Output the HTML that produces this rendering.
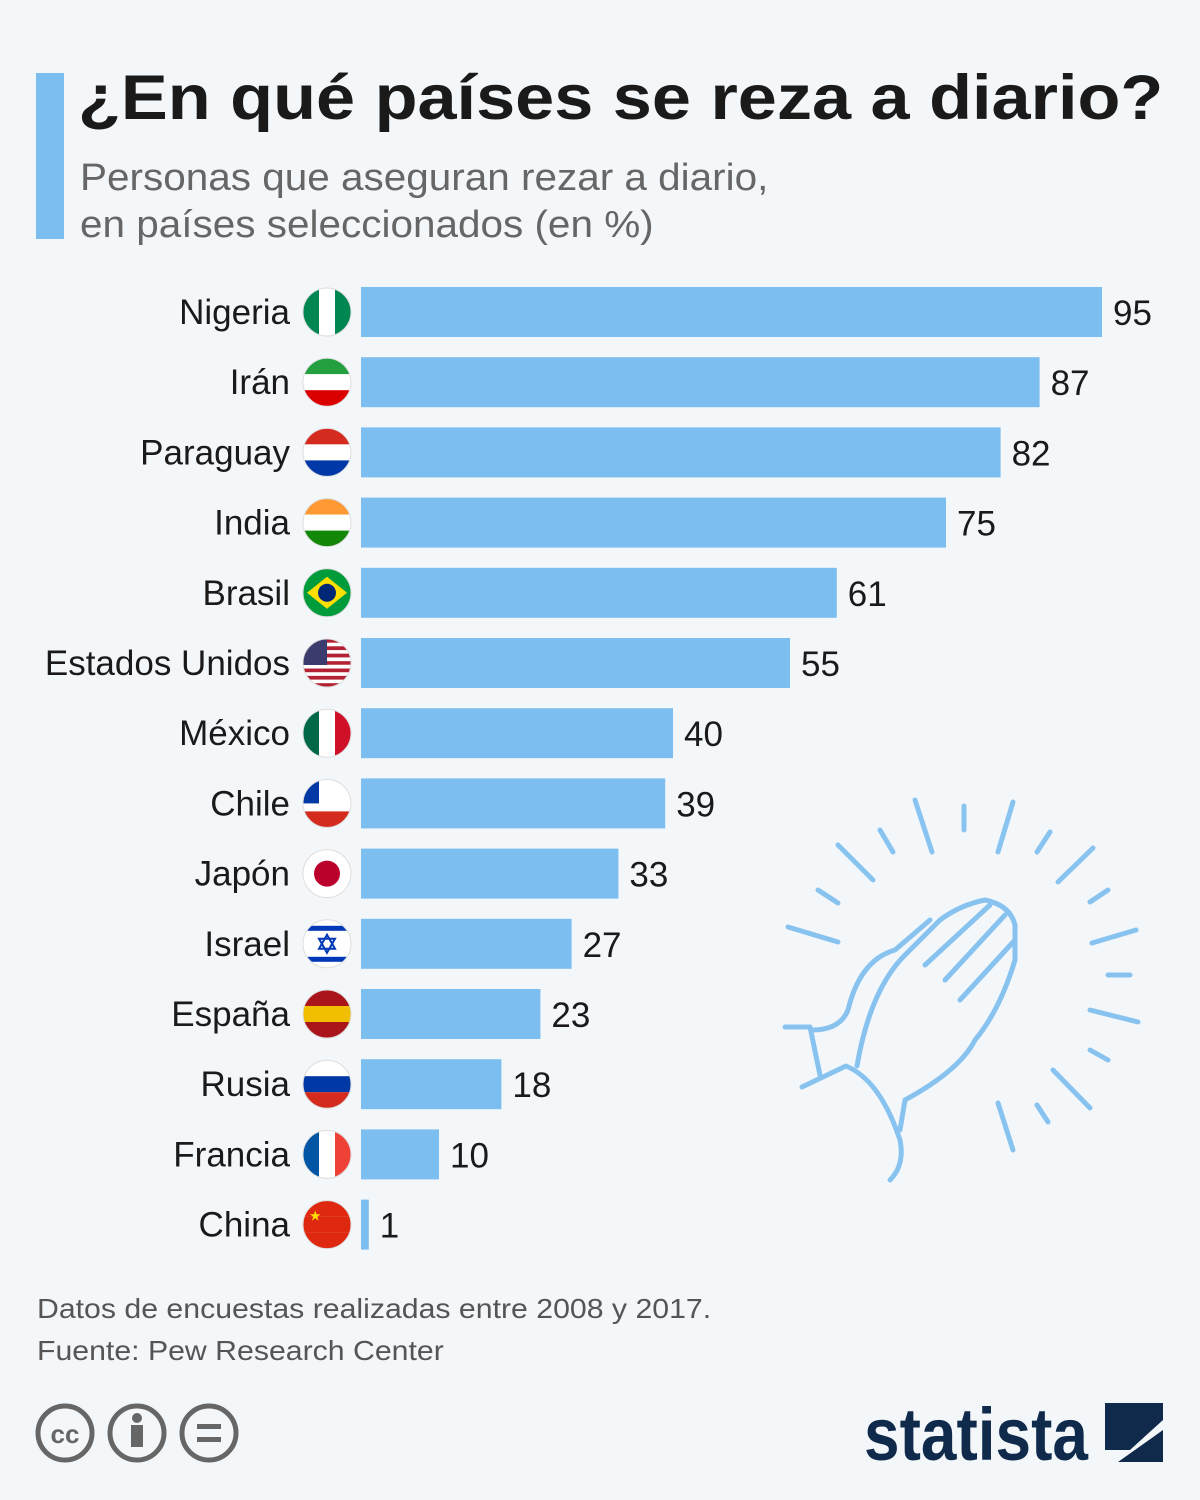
<!DOCTYPE html>
<html><head><meta charset="utf-8">
<style>
body{margin:0;background:#f4f7fa;}
#wrap{position:relative;width:1200px;height:1500px;background:#f4f7fa;font-family:"Liberation Sans",sans-serif;overflow:hidden}
.t{position:absolute;white-space:nowrap;transform-origin:0 0}
</style></head><body>
<div id="wrap">
<div class="t" style="left:36px;top:73px;width:28px;height:166px;background:#7dbef0"></div>
<div class="t" style="left:78px;top:62px;font-size:63px;font-weight:bold;color:#1a1a1a;transform:scaleX(1.115)">¿En qué países se reza a diario?</div>
<div class="t" style="left:80px;top:155px;font-size:38px;line-height:47px;color:#666;transform:scaleX(1.065)">Personas que aseguran rezar a diario,<br>en países seleccionados (en %)</div>
<svg id="chart" width="1200" height="1500" style="position:absolute;left:0;top:0"></svg>
<div class="t" style="left:37px;top:1288px;font-size:28px;line-height:42px;color:#555;transform:scaleX(1.08)">Datos de encuestas realizadas entre 2008 y 2017.<br>Fuente: Pew Research Center</div>
<svg width="1200" height="1500" style="position:absolute;left:0;top:0;pointer-events:none">
 <g fill="none" stroke="#666" stroke-width="5">
  <circle cx="65" cy="1433" r="27"/><circle cx="137" cy="1433" r="27"/><circle cx="209" cy="1433" r="27"/>
  <text x="65" y="1443" font-size="26" font-weight="bold" fill="#666" stroke="none" text-anchor="middle" font-family="Liberation Sans">cc</text>
  <circle cx="137" cy="1418" r="5" fill="#666" stroke="none"/><rect x="131" y="1425" width="12" height="22" fill="#666" stroke="none"/>
  <rect x="197" y="1424" width="24" height="5" fill="#666" stroke="none"/><rect x="197" y="1437" width="24" height="5" fill="#666" stroke="none"/>
 </g>
 <text x="864" y="1460" font-size="74" font-weight="bold" fill="#0f2a4a" font-family="Liberation Sans" textLength="224" lengthAdjust="spacingAndGlyphs">statista</text>
 <g fill="#0f2a4a">
  <path d="M1105 1403 H1163 V1420 L1130 1450 H1105 Z M1163 1430 V1462 H1118 Z"/>
 </g>
 <g fill="none" stroke="#7dbef0" stroke-width="5" stroke-linecap="round" stroke-linejoin="round" opacity="0.9">
  <path d="M915 800 L932 852 M964 806 L964 830 M1013 802 L998 852 M880 830 L893 852 M1050 832 L1037 852 M838 845 L873 880 M1093 848 L1058 882 M818 890 L838 903 M1108 890 L1090 902 M788 927 L838 942 M1136 930 L1092 943 M1108 975 L1130 975 M1090 1010 L1138 1022 M1090 1050 L1108 1060 M1053 1070 L1090 1108 M998 1103 L1013 1150 M1037 1105 L1048 1122"/>
  <path d="M802 1087 L846 1066 Q880 1080 900 1140 Q905 1165 890 1180"/>
  <path d="M857 1066 Q870 990 905 955 L940 920 Q960 905 985 900 Q1010 905 1015 925 L1015 960 Q1000 1010 975 1040 Q960 1070 905 1100 L900 1130"/>
  <path d="M785 1027 L810 1027 L820 1075 M812 1030 Q840 1030 848 1010 Q860 960 895 950 L930 920 M925 965 L990 905 M945 980 L1005 915 M960 1000 L1015 940"/>
 </g>
</svg>
</div>
<script>
const countries=["Nigeria","Irán","Paraguay","India","Brasil","Estados Unidos","México","Chile","Japón","Israel","España","Rusia","Francia","China"];
const values=[95,87,82,75,61,55,40,39,33,27,23,18,10,1];
const flags=[["#008751","#fff","#008751","v"],["#239f40","#fff","#da0000","h"],["#d52b1e","#fff","#0038a8","h"],["#ff9933","#fff","#138808","h"],["#009c3b","#ffdf00","#009c3b","br"],["#b22234","#fff","#b22234","us"],["#006847","#fff","#ce1126","v"],["#fff","#fff","#d52b1e","cl"],["#fff","#fff","#fff","jp"],["#fff","#fff","#fff","il"],["#aa151b","#f1bf00","#aa151b","h"],["#fff","#0039a6","#d52b1e","h"],["#0055a4","#fff","#ef4135","v"],["#de2910","#de2910","#de2910","cn"]];
const svg=document.getElementById('chart');const NS="http://www.w3.org/2000/svg";
const x0=361,scale=7.8,top0=287,pitch=70.2,bh=50;
const xs=v=>v*scale;
function mk(t,a,p){const e=document.createElementNS(NS,t);for(const k in a)e.setAttribute(k,a[k]);(p||svg).appendChild(e);return e;}
const defs=mk('defs',{});
countries.forEach((c,i)=>{
 const y=top0+i*pitch,cy=y+bh/2;
 const r=mk('rect',{x:x0,y:y,width:xs(values[i]),height:bh,fill:'#7dbef0'});
 
 
 const v=mk('text',{x:x0+xs(values[i])+11,y:cy+13,'font-size':35,fill:'#1a1a1a','font-family':'Liberation Sans'});v.textContent=values[i];
 
 
 const l=mk('text',{x:290,y:cy+12,'font-size':35,fill:'#1a1a1a','text-anchor':'end','font-family':'Liberation Sans'});l.textContent=c;
 
 
 const cp=mk('clipPath',{id:'cp'+i},defs);mk('circle',{cx:327,cy:cy,r:24},cp);
 const g=mk('g',{'clip-path':'url(#cp'+i+')'});
 
 
 const f=flags[i],X=303,Y=cy-24;
 if(f[3]=='v'){for(let k=0;k<3;k++)mk('rect',{x:X+k*16,y:Y,width:16,height:48,fill:f[k]},g);}
 else{for(let k=0;k<3;k++)mk('rect',{x:X,y:Y+k*16,width:48,height:16,fill:f[k]},g);}
 if(f[3]=='br'){mk('rect',{x:X,y:Y,width:48,height:48,fill:'#009c3b'},g);mk('path',{d:`M${X+4} ${cy} L327 ${Y+8} L${X+44} ${cy} L327 ${Y+40}Z`,fill:'#ffdf00'},g);mk('circle',{cx:327,cy:cy,r:9,fill:'#002776'},g);}
 if(f[3]=='us'){for(let k=0;k<13;k++)mk('rect',{x:X,y:Y+k*48/13,width:48,height:48/13,fill:k%2?'#fff':'#b22234'},g);mk('rect',{x:X,y:Y,width:24,height:26,fill:'#3c3b6e'},g);}
 if(f[3]=='cl'){mk('rect',{x:X,y:Y,width:16,height:24,fill:'#0039a6'},g);}
 if(f[3]=='jp'){mk('circle',{cx:327,cy:cy,r:13,fill:'#bc002d'},g);}
 if(f[3]=='il'){mk('rect',{x:X,y:Y+6,width:48,height:5,fill:'#0038b8'},g);mk('rect',{x:X,y:Y+37,width:48,height:5,fill:'#0038b8'},g);mk('path',{d:`M327 ${cy-9} L335 ${cy+5} L319 ${cy+5}Z M327 ${cy+9} L335 ${cy-5} L319 ${cy-5}Z`,fill:'none',stroke:'#0038b8','stroke-width':2},g);}
 if(f[3]=='cn'){mk('text',{x:X+6,y:Y+20,'font-size':14,fill:'#ffde00'},g).textContent='★';}
 mk('circle',{cx:327,cy:cy,r:24,fill:'none',stroke:'#ddd','stroke-width':1});
});
</script>
</body></html>
